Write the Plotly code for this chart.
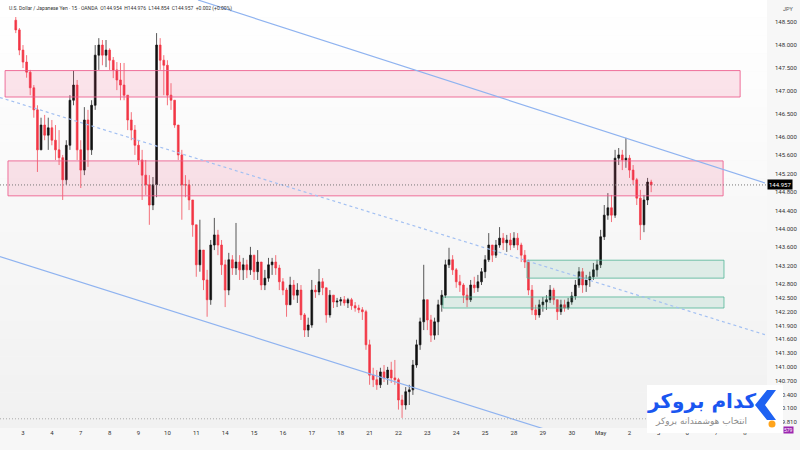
import plotly.graph_objects as go

# ---------------- data ----------------
day_labels = ["3", "4", "7", "8", "9", "10", "11", "14", "15", "16", "17", "18", "21",
              "22", "23", "24", "25", "28", "29", "30", "May", "2", "5", "6", "7", "8"]

first_open = 148.54
close = [148.33, 147.89, 147.63, 147.41, 147.07, 146.59, 145.72, 146.26, 146.04, 146.20,
         145.93, 145.72, 145.55, 145.07, 145.82, 146.80, 147.13, 145.72, 145.28, 146.37,
         145.72, 146.69, 147.78, 148.00, 147.78, 147.89, 147.67, 147.46, 147.24, 147.13,
         146.91, 146.37, 146.15, 145.82, 145.50, 145.17, 144.96, 144.52, 144.96, 148.00,
         147.67, 147.56, 146.91, 146.80, 146.26, 145.61, 144.96, 144.96, 144.63, 144.09,
         143.22, 143.54, 142.89, 142.46, 143.65, 143.87, 143.65, 143.22, 142.67, 143.33,
         143.15, 143.28, 143.11, 143.22, 143.11, 143.43, 143.07, 143.28, 142.78, 142.93,
         143.22, 143.28, 143.15, 142.85, 142.67, 142.35, 142.78, 142.56, 142.67, 142.13,
         141.80, 141.91, 142.67, 142.63, 142.85, 142.72, 142.13, 142.56, 142.41, 142.43,
         142.46, 142.39, 142.46, 142.33, 142.28, 142.24, 142.20, 141.48, 140.82, 140.72,
         140.61, 140.89, 140.76, 140.93, 140.76, 140.72, 140.28, 140.17, 140.46, 140.50,
         141.04, 141.48, 141.98, 142.46, 142.02, 141.69, 141.98, 142.35, 142.56, 143.22,
         143.33, 143.11, 142.85, 142.78, 142.56, 142.46, 142.78, 142.72, 142.85, 143.07,
         143.33, 143.65, 143.43, 143.65, 143.80, 143.70, 143.76, 143.65, 143.80, 143.65,
         143.43, 143.28, 142.67, 142.24, 142.13, 142.35, 142.41, 142.46, 142.67, 142.46,
         142.20, 142.35, 142.28, 142.41, 142.54, 142.78, 143.07, 142.78, 142.89, 142.96,
         143.11, 143.22, 143.83, 144.30, 144.46, 144.30, 145.54, 145.61, 145.50, 145.54,
         145.28, 145.07, 144.67, 144.09, 144.63, 145.02, 144.957]
high = [148.61, 148.37, 148.00, 147.78, 147.46, 147.13, 146.69, 146.42, 146.48, 146.42,
        146.37, 146.26, 146.15, 145.61, 145.93, 146.91, 147.44, 147.24, 145.93, 146.65,
        146.59, 146.80, 148.00, 148.15, 148.11, 148.11, 147.93, 147.74, 147.63, 147.61,
        147.61, 146.91, 146.54, 146.26, 145.93, 145.72, 145.50, 145.17, 145.13, 148.26,
        148.15, 147.78, 147.67, 147.17, 146.80, 146.26, 145.72, 145.17, 145.07, 144.63,
        144.09, 144.20, 143.54, 143.11, 143.76, 144.24, 143.98, 143.76, 143.33, 143.48,
        143.43, 144.13, 143.43, 143.37, 143.33, 143.61, 143.43, 143.54, 143.28, 143.11,
        143.37, 143.37, 143.43, 143.22, 142.93, 142.72, 142.96, 142.89, 142.82, 142.78,
        142.17, 142.07, 142.89, 142.78, 143.13, 142.93, 142.67, 142.67, 142.56, 142.50,
        142.52, 142.54, 142.50, 142.50, 142.41, 142.35, 142.30, 142.24, 141.59, 140.98,
        140.93, 140.98, 141.04, 141.00, 141.11, 141.15, 140.76, 140.39, 140.56, 140.61,
        141.15, 141.59, 142.07, 143.22, 142.46, 142.13, 142.07, 142.46, 142.67, 143.33,
        143.59, 143.43, 143.15, 143.00, 142.82, 142.72, 142.89, 142.96, 143.00, 143.15,
        143.43, 143.91, 143.65, 143.76, 144.04, 143.91, 143.87, 143.91, 143.93, 143.91,
        143.70, 143.54, 143.33, 142.78, 142.35, 142.46, 142.52, 142.56, 142.78, 142.72,
        142.46, 142.46, 142.46, 142.50, 142.63, 142.89, 143.17, 143.15, 143.00, 143.07,
        143.26, 143.33, 143.98, 144.52, 144.78, 144.74, 145.72, 145.76, 145.72, 145.98,
        145.61, 145.39, 145.11, 144.85, 144.74, 145.11, 145.07]
low = [148.26, 147.78, 147.50, 147.29, 146.91, 146.42, 145.24, 145.72, 145.93, 145.72,
       145.82, 145.50, 145.39, 144.63, 144.96, 145.72, 146.69, 145.50, 144.89, 145.17,
       145.35, 145.61, 146.59, 147.46, 147.56, 147.52, 147.46, 147.28, 147.02, 146.80,
       146.80, 146.15, 145.93, 145.61, 145.39, 144.63, 144.74, 144.09, 144.41, 144.69,
       147.46, 146.91, 146.69, 146.59, 146.20, 145.50, 144.20, 144.69, 144.41, 143.83,
       142.96, 143.07, 142.67, 142.09, 142.35, 143.54, 143.43, 143.00, 142.30, 142.56,
       143.00, 143.00, 142.89, 142.89, 142.93, 143.00, 142.89, 142.89, 142.67, 142.67,
       142.85, 143.00, 143.00, 142.67, 142.56, 142.09, 142.35, 142.46, 142.39, 142.02,
       141.65, 141.65, 141.85, 142.50, 142.56, 142.56, 141.96, 142.07, 142.28, 142.30,
       142.33, 142.33, 142.28, 142.24, 142.20, 142.17, 142.02, 141.37, 140.61, 140.56,
       140.50, 140.54, 140.67, 140.61, 140.65, 140.61, 140.07, 139.89, 140.07, 140.17,
       140.39, 140.98, 141.37, 141.80, 141.80, 141.54, 141.59, 141.69, 142.20, 142.50,
       143.15, 143.00, 142.72, 142.63, 142.39, 142.30, 142.41, 142.61, 142.63, 142.78,
       142.93, 143.28, 143.28, 143.37, 143.59, 143.54, 143.50, 143.54, 143.59, 143.54,
       143.28, 143.15, 142.56, 142.13, 142.02, 142.07, 142.20, 142.24, 142.39, 142.35,
       142.02, 142.13, 142.20, 142.24, 142.35, 142.46, 142.72, 142.61, 142.63, 142.74,
       142.89, 142.96, 143.15, 143.76, 144.20, 144.15, 144.24, 145.39, 145.28, 145.33,
       145.11, 144.96, 144.52, 143.76, 143.93, 144.52, 144.80]

y_ticks = [148.5, 148.0, 147.5, 147.0, 146.5, 146.0, 145.6, 145.2, 144.8, 144.4, 144.0,
           143.6, 143.2, 142.8, 142.5, 142.2, 141.9, 141.6, 141.3, 141.0, 140.7, 140.4,
           140.1, 139.81]
last_price = 144.957

# drawings: (day position, price)
pink_zones = [((-0.62, 147.445), (24.83, 146.87)), ((-0.52, 145.48), (24.24, 144.72))]
green_zones = [((17.45, 143.32), (24.27, 142.93)), ((14.54, 142.52), (24.27, 142.28))]
channel_upper = ((6.06, 148.98), (25.69, 145.0))
channel_lower = ((-0.80, 143.40), (18.59, 139.54))
channel_mid = ((-0.80, 146.86), (25.69, 141.70))
low_line_price = 139.87

# ---------------- figure ----------------
n = len(close)
x = [-0.25 + 0.125 * i for i in range(n)]
open_ = [first_open] + close[:-1]
high = [max(h, o, c) for h, o, c in zip(high, open_, close)]
low = [min(l, o, c) for l, o, c in zip(low, open_, close)]

X_RANGE = [-0.796, 25.76]
Y_RANGE = [139.67, 148.98]
PW, PH = 767.0, 428.0  # plot area in px


def px(xp, yp):
    return xp / PW, 1 - yp / PH


fig = go.Figure()

fig.add_trace(go.Candlestick(
    x=x, open=open_, high=high, low=low, close=close,
    increasing=dict(line=dict(color="#111111", width=0.7), fillcolor="#111111"),
    decreasing=dict(line=dict(color="#f23645", width=0.7), fillcolor="#f23645"),
    whiskerwidth=0, showlegend=False, hoverinfo="skip"))

shapes = []
# subtle vertical background gradient (white at top -> light grey at bottom)
NB = 24
for k in range(NB):
    t = k / (NB - 1)
    g = int(round(255 - 14 * t))
    shapes.append(dict(type="rect", xref="paper", yref="paper", x0=0, x1=1,
                       y0=1 - (k + 1) / NB, y1=1 - k / NB,
                       fillcolor="rgb(%d,%d,%d)" % (g, g, g), line=dict(width=0),
                       layer="below"))

for (a, b) in pink_zones:
    shapes.append(dict(type="rect", xref="x", yref="y", x0=a[0], y0=a[1], x1=b[0], y1=b[1],
                       fillcolor="rgba(242,54,112,0.13)",
                       line=dict(color="rgba(236,90,140,0.85)", width=1), layer="above"))
for (a, b) in green_zones:
    shapes.append(dict(type="rect", xref="x", yref="y", x0=a[0], y0=a[1], x1=b[0], y1=b[1],
                       fillcolor="rgba(60,170,130,0.13)",
                       line=dict(color="rgba(80,180,150,0.8)", width=1), layer="above"))
for ln, dash, col in [(channel_upper, "solid", "#8fb3f0"), (channel_lower, "solid", "#8fb3f0"),
                      (channel_mid, "3px,3px", "#a3c0f2")]:
    shapes.append(dict(type="line", xref="x", yref="y", x0=ln[0][0], y0=ln[0][1],
                       x1=ln[1][0], y1=ln[1][1],
                       line=dict(color=col, width=1.2, dash=dash), layer="above"))
shapes.append(dict(type="line", xref="paper", yref="y", x0=0, x1=1, y0=last_price, y1=last_price,
                   line=dict(color="#777777", width=1, dash="1px,2px"), layer="above"))
shapes.append(dict(type="line", xref="paper", yref="y", x0=0, x1=1, y0=low_line_price,
                   y1=low_line_price, line=dict(color="#aaaaaa", width=1, dash="1px,2px"),
                   layer="above"))

# logo box
bx0, by0 = px(647, 433)
bx1, by1 = px(783, 385)
shapes.append(dict(type="rect", xref="paper", yref="paper", x0=bx0, y0=by0, x1=bx1, y1=by1,
                   fillcolor="white", line=dict(width=0), layer="above"))
pts = [(767, 390), (755, 405), (767, 420), (776, 420), (765, 405), (776, 390)]
path = "M " + " L ".join("%.5f,%.5f" % px(a, b) for a, b in pts) + " Z"
shapes.append(dict(type="path", xref="paper", yref="paper", path=path,
                   fillcolor="#1e62f2", line=dict(width=0), layer="above"))
cx0, cy0 = px(768.5, 427.5)
cx1, cy1 = px(775.5, 420.5)
shapes.append(dict(type="circle", xref="paper", yref="paper", x0=cx0, y0=cy0, x1=cx1, y1=cy1,
                   fillcolor="#ffa41b", line=dict(width=0), layer="above"))

annotations = [
    dict(text="U.S. Dollar / Japanese Yen · 15 · OANDA  O144.954  H144.976  L144.854  "
              "C144.957  +0.002 (+0.00%)",
         xref="paper", yref="paper", x=0, y=1, xanchor="left", yanchor="top",
         xshift=7, yshift=-3, showarrow=False,
         font=dict(family="Roboto", size=5, color="#333333")),
    dict(text="JPY", xref="paper", yref="paper", x=1, y=1, xanchor="left", yanchor="top",
         xshift=14, yshift=-4, showarrow=False,
         font=dict(family="Roboto", size=5.5, color="#555555")),
    dict(text="%.3f" % last_price, xref="paper", yref="y", x=1, y=last_price,
         xanchor="left", yanchor="middle", showarrow=False, bgcolor="#000000",
         borderpad=1, font=dict(family="Roboto", size=6, color="white")),
    dict(text="کدام بروکر", xref="paper", yref="paper", x=px(701, 0)[0], y=px(0, 401)[1],
         xanchor="center", yanchor="middle", showarrow=False,
         font=dict(family="DejaVu Sans", size=20, color="#1a56f0", weight="bold")),
    dict(text="انتخاب هوشمندانه بروکر", xref="paper", yref="paper", x=px(701, 0)[0],
         y=px(0, 421)[1], xanchor="center", yanchor="middle", showarrow=False,
         font=dict(family="DejaVu Sans", size=9, color="#8c8c8c")),
    dict(text="579", xref="paper", yref="paper", x=px(788, 0)[0], y=px(0, 430)[1],
         xanchor="center", yanchor="middle", showarrow=False, bgcolor="#9c27b0",
         borderpad=0, font=dict(family="Roboto", size=5, color="white")),
]

fig.update_layout(
    width=800, height=450,
    margin=dict(l=0, r=33, t=0, b=22),
    paper_bgcolor="#f7f7f7", plot_bgcolor="rgba(0,0,0,0)",
    shapes=shapes, annotations=annotations,
    xaxis=dict(range=X_RANGE, tickvals=list(range(len(day_labels))), ticktext=day_labels,
               showgrid=False, zeroline=False, showline=False, ticks="",
               rangeslider=dict(visible=False),
               tickfont=dict(family="Roboto", size=6, color="#333333")),
    yaxis=dict(range=Y_RANGE, side="right", tickvals=y_ticks,
               ticktext=["%.3f" % v for v in y_ticks], showgrid=False, zeroline=False,
               showline=False, ticks="", ticklabelstandoff=7,
               tickfont=dict(family="Roboto", size=6, color="#333333")),
)

fig.write_html("out.html")
